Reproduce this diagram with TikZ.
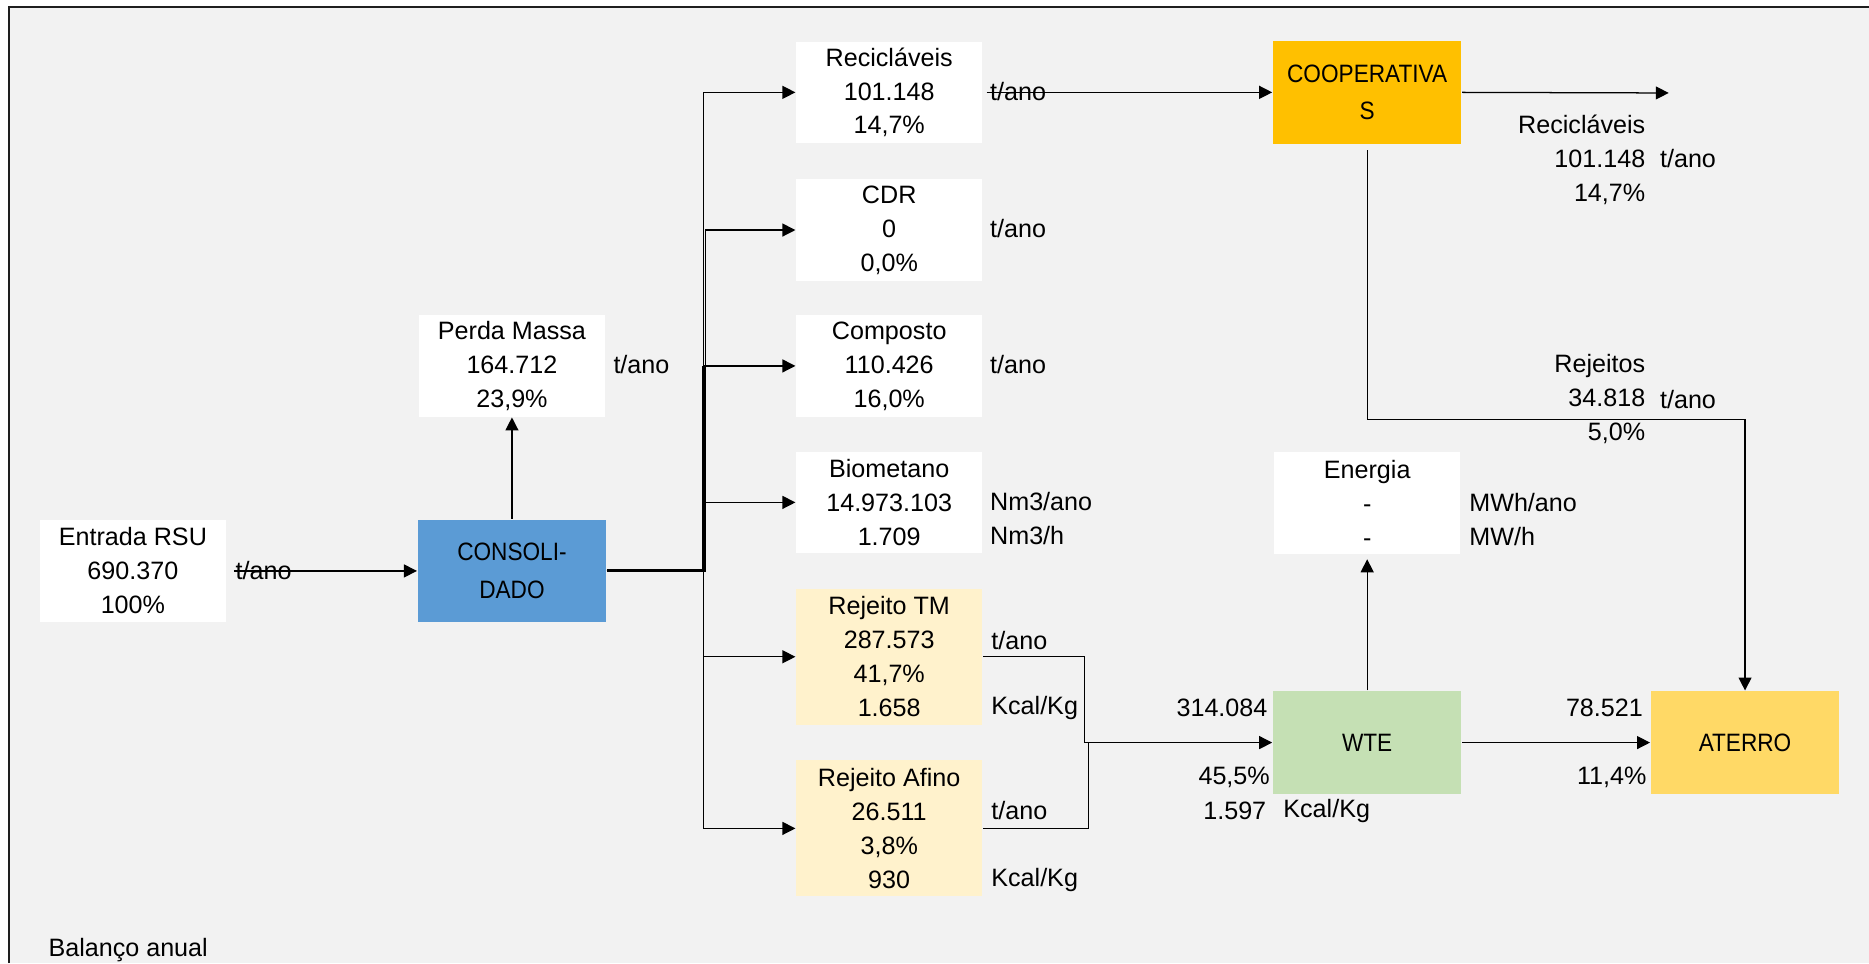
\documentclass[tikz,border=0pt]{standalone}
\usepackage{fontspec}
\setmainfont{Liberation Sans}
\newfontfamily\estreita[FakeStretch=0.9]{Liberation Sans}
\usepackage{tikz}
\usetikzlibrary{arrows.meta, calc}
\definecolor{fundo}{RGB}{242, 242, 242}
\definecolor{azulconsol}{RGB}{91, 155, 213}
\definecolor{laranjacoop}{RGB}{255, 192, 0}
\definecolor{creme}{RGB}{255, 242, 204}
\definecolor{verdewte}{RGB}{197, 224, 180}
\definecolor{amareloat}{RGB}{255, 217, 102}
\definecolor{moldura}{RGB}{30, 30, 30}

\begin{document}
\begin{tikzpicture}[x=0.1mm, y=-0.1mm,
    every node/.style={font=\fontsize{6}{8.1}\selectfont, inner sep=0pt},
    caixa/.style={fill=white, minimum width=15.6mm, minimum height=8.5mm, align=center},
    caixaq/.style={caixa, fill=creme, minimum height=11.4mm},
    processo/.style={minimum width=15.8mm, minimum height=8.6mm, align=center,
        font=\estreita\fontsize{6}{9}\selectfont},
    unid/.style={anchor=west},
    valor/.style={anchor=east, align=right},
    seta/.style={-{Triangle[length=3.1pt, width=3.1pt]}, line width=0.3pt}]
    \useasboundingbox (0,0) rectangle (1568,808);

    % Fundo e moldura
    \fill[white] (0,0) rectangle (1568,808);
    \fill[fundo] (7.5,6) rectangle (1568,808);
    \draw[moldura, line width=0.5pt] (7.5,808) -- (7.5,6) -- (1568,6);

    % Entrada e consolidado
    \node[caixa] (entrada) at (111.5,479) {Entrada RSU\\690.370\\100\%};
    \node[unid] (entrada_u) at (197,479) {t/ano};
    \node[processo, fill=azulconsol] (consol) at (429.5,479) {CONSOLI-\\DADO};
    \node[caixa] (perda) at (429.5,307) {Perda Massa\\164.712\\23,9\%};
    \node[unid] (perda_u) at (514,306) {t/ano};

    % Produtos do consolidado
    \node[caixa] (recic) at (746,77.5) {Recicláveis\\101.148\\14,7\%};
    \node[caixa] (cdr) at (746,193) {CDR\\0\\0,0\%};
    \node[caixa] (compost) at (746,307) {Composto\\110.426\\16,0\%};
    \node[caixa] (biomet) at (746,421.5) {Biometano\\14.973.103\\1.709};
    \node[caixaq] (rejtm) at (746,551) {Rejeito TM\\287.573\\41,7\%\\1.658};
    \node[caixaq] (rejaf) at (746,695) {Rejeito Afino\\26.511\\3,8\%\\930};

    \node[unid] (recic_u) at (830,77) {t/ano};
    \node[unid] (cdr_u) at (830,192) {t/ano};
    \node[unid] (compost_u) at (830,306) {t/ano};
    \node[unid] (biomet_u1) at (830,421) {Nm3/ano};
    \node[unid] (biomet_u2) at (830,449) {Nm3/h};
    \node[unid] (rejtm_u1) at (831,537) {t/ano};
    \node[unid] (rejtm_u2) at (831,594) {Kcal/Kg};
    \node[unid] (rejaf_u1) at (831,680) {t/ano};
    \node[unid] (rejaf_u2) at (831,738) {Kcal/Kg};

    % Cooperativas, WTE, energia e aterro
    \node[processo, fill=laranjacoop] (coop) at (1147,77.5) {COOPERATIVA\\S};
    \node[processo, fill=verdewte] (wte) at (1147,623) {WTE};
    \node[caixa] (energia) at (1147,422) {Energia\\-\\-};
    \node[unid] (energia_u1) at (1232,422) {MWh/ano};
    \node[unid] (energia_u2) at (1232,450) {MW/h};
    \node[processo, fill=amareloat] (aterro) at (1464,623) {ATERRO};

    \node[valor] (wte_t) at (1064,594) {314.084};
    \node[valor] (wte_p) at (1066,652) {45,5\%};
    \node[valor] (wte_k) at (1063,680) {1.597};
    \node[unid] (wte_ku) at (1076,680) {Kcal/Kg};
    \node[valor] (aterro_t) at (1379,594) {78.521};
    \node[valor] (aterro_p) at (1382,652) {11,4\%};

    \node[valor] (coop_rec) at (1381,134) {Recicláveis\\101.148\\14,7\%};
    \node[unid] (coop_rec_u) at (1392,133) {t/ano};
    \node[valor] (coop_rej) at (1381,335) {Rejeitos\\34.818\\5,0\%};
    \node[unid] (coop_rej_u) at (1392,335) {t/ano};

    \node[anchor=west] (titulo) at (40,797) {Balanço anual};

    % Conexoes
    \coordinate (tronco) at (590,479);
    \coordinate (tronco2) at (592,479);
    \coordinate (juncao) at (910,623);
    \coordinate (juncao2) at (913,623);
    \coordinate (saida) at (1400,78);
    \coordinate (desvio) at (1464,352);

    \draw[seta, shorten <=0.6mm] (entrada.east) -- (consol.west);
    \draw[seta] (consol.north) -- (perda.south);
    \draw[line width=0.7pt] (consol.east) -- (tronco) -- (tronco |- compost.west);
    \draw[seta] (consol.east) -- (tronco) |- (recic.west);
    \draw[seta] (consol.east) -- (tronco2) |- (cdr.west);
    \draw[seta] (consol.east) -- (tronco) |- (compost.west);
    \draw[seta] (consol.east) -- (tronco) |- (biomet.west);
    \draw[seta] (consol.east) -- (tronco) |- (rejtm.west);
    \draw[seta] (consol.east) -- (tronco) |- (rejaf.west);

    \draw[seta, shorten <=0.3mm] (recic.east) -- (coop.west);
    \draw[seta] (coop.east) -- (saida);
    \draw[seta, shorten <=0.5mm] (coop.south) |- (desvio) -- (aterro.north);

    \draw[seta] (rejtm.east) -| (juncao) -- (wte.west);
    \draw[line width=0.3pt] (rejaf.east) -| (juncao2);
    \draw[seta, shorten >=0.4mm] (wte.north) -- (energia.south);
    \draw[seta] (wte.east) -- (aterro.west);
\end{tikzpicture}
\end{document}
